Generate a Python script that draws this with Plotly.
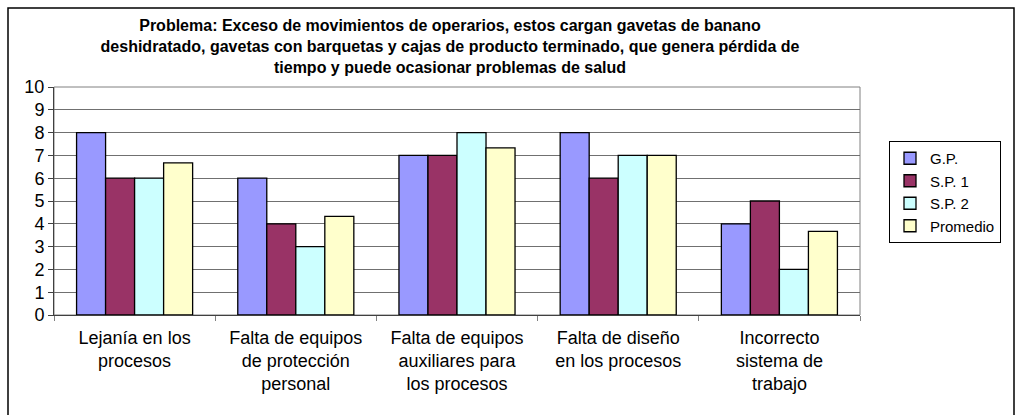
import plotly.graph_objects as go

categories = [
    "Lejanía en los<br>procesos",
    "Falta de equipos<br>de protección<br>personal",
    "Falta de equipos<br>auxiliares para<br>los procesos",
    "Falta de diseño<br>en los procesos",
    "Incorrecto<br>sistema de<br>trabajo",
]
gp = [8, 6, 7, 8, 4]
sp1 = [6, 4, 7, 6, 5]
sp2 = [6, 3, 8, 7, 2]
promedio = [6.67, 4.33, 7.33, 7, 3.67]

series = [
    ("G.P.", gp, "#9999FF"),
    ("S.P. 1", sp1, "#993366"),
    ("S.P. 2", sp2, "#CCFFFF"),
    ("Promedio", promedio, "#FFFFCC"),
]

W, H = 1023, 415
L, R, T, B = 54, 163, 87, 100

fig = go.Figure()
for name, vals, col in series:
    fig.add_trace(go.Bar(x=categories, y=vals, name=name,
                         marker=dict(color=col, line=dict(color="black", width=1.3))))

pw = W - L - R
ph = H - T - B
def px_x(x):
    return (x - L) / pw
def px_y(y):
    return (H - B - y) / ph

fig.update_layout(
    width=W, height=H,
    margin=dict(l=L, r=R, t=T, b=B, autoexpand=False),
    paper_bgcolor="white", plot_bgcolor="white",
    barmode="group", bargap=0.28, bargroupgap=0,
    font=dict(family="Liberation Sans, Arial", color="black"),
    title=dict(
        text="<b>Problema: Exceso de movimientos de operarios, estos cargan gavetas de banano<br>"
             "deshidratado, gavetas con barquetas y cajas de producto terminado, que genera pérdida de<br>"
             "tiempo y puede ocasionar problemas de salud</b>",
        x=px_x(450), xref="paper", xanchor="center",
        y=1 - 31 / H, yref="container", yanchor="middle",
        font=dict(size=16, family="Liberation Sans, Arial", color="black"),
    ),
    legend=dict(
        x=px_x(889), y=px_y(141), xanchor="left", yanchor="top",
        bordercolor="black", borderwidth=1, bgcolor="white",
        font=dict(size=15, family="Liberation Sans, Arial", color="black"),
        tracegroupgap=0, itemwidth=30,
    ),
    showlegend=True,
)

fig.update_yaxes(
    range=[0, 10], dtick=1, showgrid=True, gridcolor="#707070", gridwidth=1,
    showline=True, linecolor="#404040", linewidth=1,
    ticks="outside", ticklen=5, tickcolor="#404040",
    tickfont=dict(size=18, family="Liberation Sans, Arial", color="black"),
    zeroline=False, fixedrange=True,
)
fig.update_xaxes(
    showline=True, linecolor="#404040", linewidth=1,
    ticks="outside", ticklen=5, tickcolor="#808080", tickson="boundaries",
    ticklabelstandoff=6,
    tickfont=dict(size=18, family="Liberation Sans, Arial", color="black"),
    showgrid=False, fixedrange=True,
)

# plot-area frame (top/right gray)
fig.add_shape(type="rect", xref="paper", yref="paper", x0=0, x1=1, y0=0, y1=1,
              line=dict(color="#808080", width=1), layer="below")
# chart outer border
fig.add_shape(type="rect", xref="paper", yref="paper",
              x0=px_x(8), x1=px_x(1014), y0=px_y(420), y1=px_y(8),
              line=dict(color="black", width=1.5))

fig.write_html("out.html", config={"displayModeBar": False},
               post_script="document.body.style.margin='0';document.body.style.padding='0';")
